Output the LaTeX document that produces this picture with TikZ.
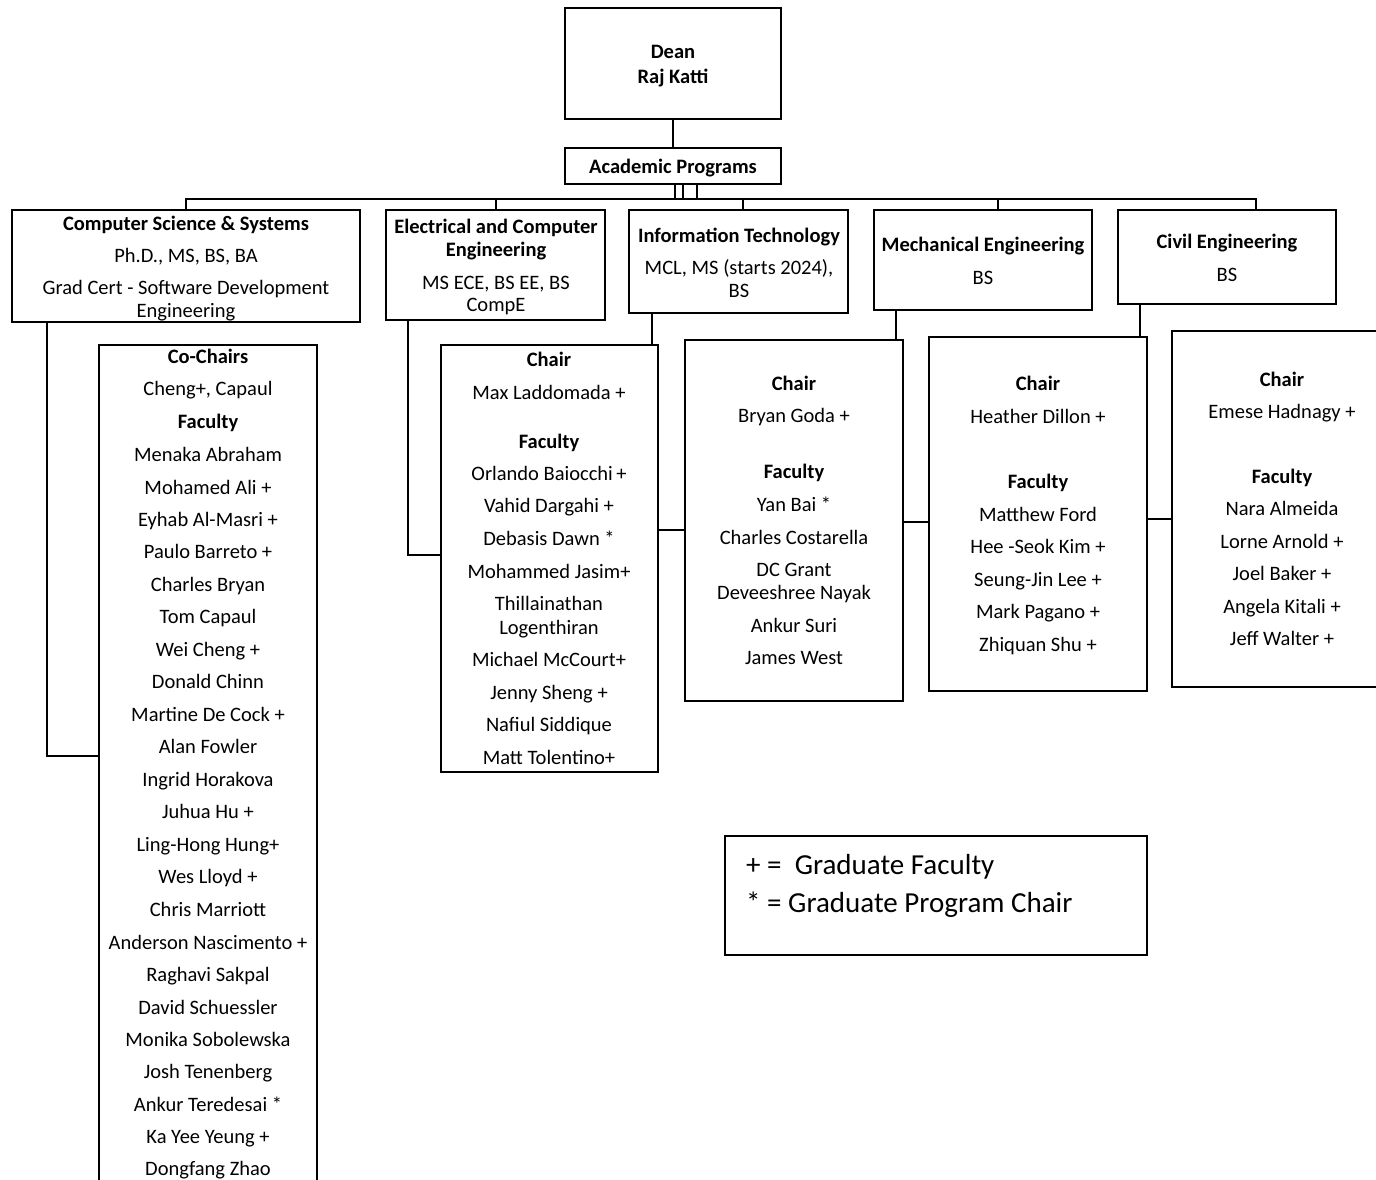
\documentclass[tikz,border=0pt]{standalone}
\usepackage{fontspec}
\setmainfont{Carlito}
\usetikzlibrary{fit}
\newcommand\fsz{\fontsize{20.5bp}{24bp}\selectfont}
\newcommand\lgsz{\fontsize{29bp}{34bp}\selectfont}
\tikzset{
  box/.style={draw, line width=2.5bp, rectangle, inner sep=0pt},
  conn/.style={line width=2.5bp},
  txt/.style={font=\fsz, inner sep=0pt, text height=0.8em, text depth=0.16em, yshift=-4bp},
  lgtxt/.style={font=\lgsz, inner sep=0pt, text height=0.8em, text depth=0.16em, anchor=west, yshift=-5bp},
}
\newcommand\textcol[3]{\foreach \yy/\lbl [count=\i] in {#3}{\node[txt] (#1\i) at (#2,\yy) {\lbl};}}
\begin{document}
\begin{tikzpicture}[x=1bp,y=-1bp]
\useasboundingbox (0,0) rectangle (1376,1179);
\fill[white] (0,0) rectangle (1376,1179);
\clip (0,0) rectangle (1376,1179);

% top boxes
\node[box, fit={(565,8) (781,119)}] (dean) {};
\node[box, fit={(565,148) (781,184)}] (ap) {};
\node[txt] (dean1) at (673,51) {\textbf{Dean}};
\node[txt] (dean2) at (673,76) {\textbf{Raj Katti}};
\node[txt] (ap1) at (673,166) {\textbf{Academic Programs}};

% department boxes
\node[box, fit={(12,210) (360,322)}] (cs) {};
\node[box, fit={(386,210) (605,320)}] (ece) {};
\node[box, fit={(629,210) (848,313)}] (it) {};
\node[box, fit={(874,210) (1092,310)}] (me) {};
\node[box, fit={(1118,210) (1336,304)}] (civ) {};

\textcol{cst}{186}{223/\textbf{Computer Science \& Systems}, 255/{Ph.D., MS, BS, BA}, 287/Grad Cert - Software Development, 310/Engineering}
\textcol{ecet}{496}{226/\textbf{Electrical and Computer}, 249/\textbf{Engineering}, 282/{MS ECE, BS EE, BS}, 304/CompE}
\textcol{itt}{739}{235/\textbf{Information Technology}, 267/{MCL, MS (starts 2024),}, 290/BS}
\textcol{met}{983}{244/\textbf{Mechanical Engineering}, 277/BS}
\textcol{civt}{1227}{241/\textbf{Civil Engineering}, 274/BS}

% faculty boxes
\node[box, fit={(99,345) (317,1200)}] (csf) {};
\node[box, fit={(441,345) (658,772)}] (ecef) {};
\node[box, fit={(685,340) (903,701)}] (itf) {};
\node[box, fit={(929,337) (1147,691)}] (mef) {};
\node[box, fit={(1172,331) (1400,687)}] (civf) {};

\textcol{csl}{208}{356/\textbf{Co-Chairs}, 388/{Cheng+, Capaul}, 421/\textbf{Faculty}, 454/Menaka Abraham, 487/Mohamed Ali +, 519/Eyhab Al-Masri +, 551/Paulo Barreto +, 584/Charles Bryan, 616/Tom Capaul, 649/Wei Cheng +, 681/Donald Chinn, 714/Martine De Cock +, 746/Alan Fowler, 779/Ingrid Horakova, 811/Juhua Hu +, 844/Ling-Hong Hung+, 876/Wes Lloyd +, 909/Chris Marriott, 942/Anderson Nascimento +, 974/Raghavi Sakpal, 1007/David Schuessler, 1039/Monika Sobolewska, 1071/Josh Tenenberg, 1104/Ankur Teredesai *, 1136/Ka Yee Yeung +, 1168/Dongfang Zhao}
\textcol{ecel}{549}{359/\textbf{Chair}, 392/Max Laddomada +, 441/\textbf{Faculty}, 473/Orlando Baiocchi\thinspace+, 505/Vahid Dargahi +, 538/Debasis Dawn *, 571/Mohammed Jasim+, 603/Thillainathan, 627/Logenthiran, 659/Michael McCourt+, 692/Jenny Sheng +, 724/Nafiul Siddique, 757/Matt Tolentino+}
\textcol{itl}{794}{383/\textbf{Chair}, 415/Bryan Goda +, 471/\textbf{Faculty}, 504/Yan Bai *, 537/Charles Costarella, 569/DC Grant, 592/Deveeshree Nayak, 625/Ankur Suri, 657/James West}
\textcol{mel}{1038}{383/\textbf{Chair}, 416/Heather Dillon +, 481/\textbf{Faculty}, 514/Matthew Ford, 546/Hee -Seok Kim +, 579/Seung-Jin Lee +, 611/Mark Pagano +, 644/Zhiquan Shu +}
\textcol{civl}{1282}{379/\textbf{Chair}, 411/Emese Hadnagy +, 476/\textbf{Faculty}, 508/Nara Almeida, 541/Lorne Arnold +, 573/Joel Baker +, 606/Angela Kitali +, 638/Jeff Walter +}

% legend
\node[box, fit={(725,836) (1147,955)}] (legend) {};
\node[lgtxt] (lg1) at (746,866) {+ =\ \ Graduate Faculty};
\node[lgtxt] (lg2) at (746,904) {* = Graduate Program Chair};

% connectors
\draw[conn] (dean) -- (ap);
\coordinate (s1) at (675,199);
\coordinate (s2) at (683,199);
\coordinate (s3) at (697,199);
\draw[conn] (s1 |- ap.south) -- (s1);
\draw[conn] (s2 |- ap.south) -- (s2);
\draw[conn] (s3 |- ap.south) -- (s3);
\coordinate (bcs) at (186,199);
\coordinate (bece) at (496,199);
\coordinate (bit) at (743,199);
\coordinate (bme) at (998,199);
\coordinate (bciv) at (1256,199);
\draw[conn] (bcs |- cs.north) -- (bcs) -- (bciv) -- (bciv |- civ.north);
\draw[conn] (bece) -- (bece |- ece.north);
\draw[conn] (bit) -- (bit |- it.north);
\draw[conn] (bme) -- (bme |- me.north);

\coordinate (kcs) at (47,756);
\draw[conn] (kcs |- cs.south) -- (kcs) -- (kcs -| csf.west);
\coordinate (kece) at (408,555);
\draw[conn] (kece |- ece.south) -- (kece) -- (kece -| ecef.west);
\coordinate (kit) at (652,530);
\draw[conn] (kit |- it.south) -- (kit |- ecef.north);
\draw[conn] (kit -| ecef.east) -- (kit -| itf.west);
\coordinate (kme) at (896,522);
\draw[conn] (kme |- me.south) -- (kme |- itf.north);
\draw[conn] (kme -| itf.east) -- (kme -| mef.west);
\coordinate (kciv) at (1140,519);
\draw[conn] (kciv |- civ.south) -- (kciv |- mef.north);
\draw[conn] (kciv -| mef.east) -- (kciv -| civf.west);
\end{tikzpicture}
\end{document}
